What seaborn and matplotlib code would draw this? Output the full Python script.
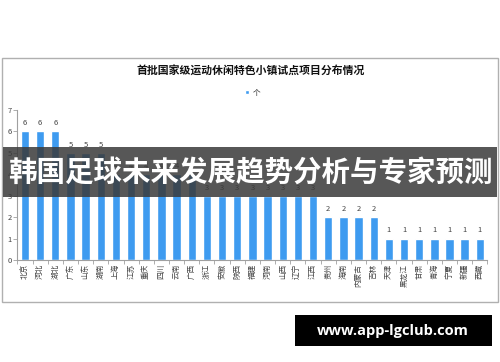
import matplotlib
matplotlib.use("Agg")
import matplotlib.pyplot as plt
import seaborn as sns
import pandas as pd
from matplotlib.patches import Rectangle

provinces = ["北京", "河北", "湖北", "广东", "山东", "湖南", "上海", "江苏", "重庆", "四川",
             "云南", "广西", "浙江", "安徽", "陕西", "福建", "河南", "山西", "辽宁", "江西",
             "贵州", "海南", "内蒙古", "吉林", "天津", "黑龙江", "甘肃", "青海", "宁夏", "新疆", "西藏"]
counts = [6, 6, 6, 5, 5, 5, 4, 4, 4, 4,
          4, 4, 3, 3, 3, 3, 3, 3, 3, 3,
          2, 2, 2, 2, 1, 1, 1, 1, 1, 1, 1]
series_name = "个"
title = "首批国家级运动休闲特色小镇试点项目分布情况"
banner = "韩国足球未来发展趋势分析与专家预测"
site = "www.app-lgclub.com"

sns.set_theme(style="white")
plt.rcParams['font.family'] = ['Noto Sans CJK SC', 'DejaVu Sans']

df = pd.DataFrame({"省份": provinces, series_name: counts})

fig = plt.figure(figsize=(5, 3.62), dpi=100)
W, H = 500, 362

# outer chart frame
fig.patches.append(Rectangle((2 / W, 1 - 302 / H), 496 / W, 244 / H, transform=fig.transFigure,
                             fill=False, edgecolor="#b0b0b0", linewidth=1.0, zorder=0))

ax = fig.add_axes([17.4 / W, 1 - 260 / H, 470 / W, 150 / H])
sns.barplot(data=df, x="省份", y=series_name, color="#3E9BF0", width=0.55, ax=ax,
            saturation=1, label=series_name)
ax.set_xlim(-0.5, len(provinces) - 0.5)
ax.set_ylim(0, 7)
ax.set_xlabel("")
ax.set_ylabel("")
ax.set_yticks(range(0, 8))
for s in ["top", "right"]:
    ax.spines[s].set_visible(False)
for s in ["left", "bottom"]:
    ax.spines[s].set_color("#a0a0a0")
    ax.spines[s].set_linewidth(0.8)
ax.tick_params(axis="y", length=3, width=0.6, color="#a0a0a0", labelsize=5.5, labelcolor="#444444", pad=1, left=True)
ax.tick_params(axis="x", length=0, labelsize=5.5, labelcolor="#444444", pad=3)
ax.set_xticks(range(len(provinces)))
ax.set_xticklabels(provinces, rotation=90)
ax.set_xticks([i + 0.5 for i in range(-1, len(provinces))], minor=True)
ax.tick_params(axis="x", which="minor", length=3, width=0.6, color="#a0a0a0", bottom=True)

for c in ax.containers:
    ax.bar_label(c, fmt="%d", fontsize=5.5, color="#444444", padding=3)

leg = ax.legend(loc="center", bbox_to_anchor=(0.5, 1.115), frameon=False, fontsize=5.5,
                handlelength=0.6, handleheight=0.6, handletextpad=0.4)

fig.text(251 / W, 1 - 71 / H, title, ha="center", va="center", fontsize=7.8, fontweight="bold",
         color="#111111")

# banner overlay
fig.patches.append(Rectangle((3 / W, 1 - 197 / H), 494 / W, 50 / H, transform=fig.transFigure,
                             facecolor="#3a3a3a", alpha=0.85, edgecolor="none", zorder=5))
fig.text(250 / W, 1 - 173 / H, banner, ha="center", va="center", fontsize=20.5, fontweight="bold",
         color="white", zorder=6)

# site box
fig.patches.append(Rectangle((295 / W, 1 - 346 / H), 197 / W, 31 / H, transform=fig.transFigure,
                             facecolor="black", edgecolor="none", zorder=5))
fig.text(393 / W, 1 - 330.5 / H, site, ha="center", va="center", fontsize=10.5, fontweight="bold",
         color="white", zorder=6, family=["Open Sans", "DejaVu Sans"])

fig.savefig("out.png", dpi=100)
